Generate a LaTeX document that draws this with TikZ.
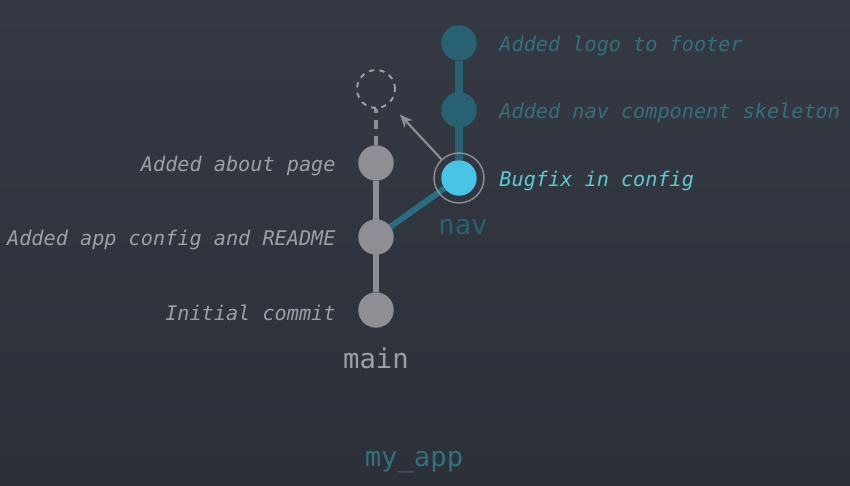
\documentclass[tikz,border=0pt]{standalone}
\usepackage{fontspec}
\usepackage{xcolor}
\usetikzlibrary{arrows.meta,positioning}
\newfontfamily\codefont{DejaVu Sans Mono}
\definecolor{bgtop}{RGB}{52,57,67}
\definecolor{bgbot}{RGB}{43,48,57}
\definecolor{maingray}{RGB}{142,143,148}
\definecolor{msggray}{RGB}{158,159,164}
\definecolor{navdim}{RGB}{40,98,114}
\definecolor{navline}{RGB}{42,108,130}
\definecolor{navtext}{RGB}{50,112,122}
\definecolor{navbright}{RGB}{72,196,230}
\definecolor{fixtext}{RGB}{92,202,212}
\pgfdeclarelayer{back}
\pgfdeclarelayer{lines}
\pgfsetlayers{back,lines,main}

\begin{document}
\begin{tikzpicture}[x=0.02cm,y=-0.02cm,node distance=0.44cm,
    commit/.style={circle,inner sep=0pt,minimum size=0.71cm,fill=maingray},
    navcommit/.style={commit,fill=navdim},
    msg/.style={inner sep=0pt,yshift=-0.05cm,font=\codefont\itshape\fontsize{11.5}{13}\selectfont},
    branch/.style={inner sep=0pt,font=\codefont\fontsize{15.5}{17}\selectfont},
    edge/.style={line width=3.4pt}]
    \useasboundingbox (0,0) rectangle (850,486);
    % commits on main
    \node[commit] (init) at (376,310) {};
    \node[commit] (cfg) at (376,237) {};
    \node[commit] (about) at (376,163) {};
    \node[circle,draw=msggray,dashed,line width=1.1pt,minimum size=0.76cm,inner sep=0pt] (ghost) at (376,89) {};
    % commits on nav
    \node[commit,fill=navbright] (fix) at (459,178) {};
    \node[circle,draw=maingray,line width=0.8pt,minimum size=1.0cm,inner sep=0pt] (ring) at (fix) {};
    \node[navcommit] (skel) at (459,110) {};
    \node[navcommit] (logo) at (459,43) {};
    % messages
    \node[msg,text=msggray,left=of init] (initmsg) {Initial commit};
    \node[msg,text=msggray,left=of cfg] (cfgmsg) {Added app config and README};
    \node[msg,text=msggray,left=of about] (aboutmsg) {Added about page};
    \node[msg,text=fixtext,right=of fix] (fixmsg) {Bugfix in config};
    \node[msg,text=navtext,right=of skel] (skelmsg) {Added nav component skeleton};
    \node[msg,text=navtext,right=of logo] (logomsg) {Added logo to footer};
    % branch names
    \node[branch,text=msggray] (mainlbl) at (376,358) {main};
    \node[branch,text=navdim] (navlbl) at (463,227) {nav};
    \node[branch,text=navtext] (repo) at (414,462) {my\_app};
    \draw[-{Stealth[length=2.6mm,width=2.2mm]},maingray,line width=1.2pt,shorten >=0.3cm] (ring) -- (ghost);
    \begin{pgfonlayer}{lines}
      \draw[edge,maingray] (init) -- (about);
      \draw[edge,navline] (cfg) -- (fix);
      \draw[edge,navdim,line width=4pt] (fix) -- (logo);
      \draw[maingray,line width=2.6pt,dash pattern=on 5pt off 4pt] (about) -- (ghost);
    \end{pgfonlayer}
    \begin{pgfonlayer}{back}
      \shade[top color=bgtop,bottom color=bgbot] (0,0) rectangle (850,486);
    \end{pgfonlayer}
\end{tikzpicture}
\end{document}
